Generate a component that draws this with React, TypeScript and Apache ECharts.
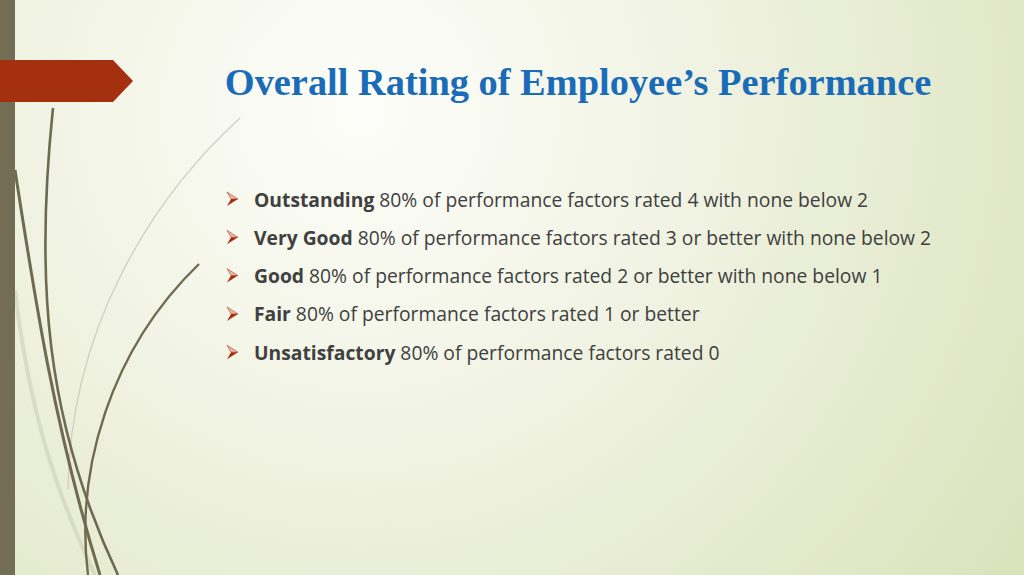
import { useEffect, useRef } from "react";
import * as echarts from "echarts";

const TITLE = "Overall Rating of Employee’s Performance";

const RATINGS = ["Outstanding", "Very Good", "Good", "Fair", "Unsatisfactory"];
const DESCRIPTIONS = [
  "80% of performance factors rated 4 with none below 2",
  "80% of performance factors rated 3 or better with none below 2",
  "80% of performance factors rated 2 or better with none below 1",
  "80% of performance factors rated 1 or better",
  "80% of performance factors rated 0",
];

// decorative grass curves: [x1, y1, cp1x, cp1y, cp2x, cp2y, x2, y2, width, color, opacity]
const CURVES: [number, number, number, number, number, number, number, number, number, string, number][] = [
  [15, 290, 30, 420, 60, 500, 95, 575, 4, "#c9cfb2", 0.55],
  [240, 118, 150, 200, 70, 330, 68, 490, 1.5, "#c8ccba", 0.8],
  [53, 108, 35, 280, 45, 420, 118, 575, 2.6, "#6f6a50", 1],
  [15, 170, 35, 300, 55, 430, 100, 575, 3, "#6f6a50", 1],
  [199, 264, 110, 350, 75, 470, 88, 575, 2.4, "#6f6a50", 1],
];

export default function App() {
  const ref = useRef<HTMLDivElement>(null);

  useEffect(() => {
    document.body.style.margin = "0";
    if (!ref.current) return;
    const chart = echarts.init(ref.current, null, { renderer: "svg" });

    const bullets: any[] = [];
    RATINGS.forEach((r, i) => {
      const y = 199 + i * 38.3;
      bullets.push({
        type: "polygon",
        shape: { points: [[227, y - 7], [238, y], [231, y]] },
        style: { fill: "#e9b8a8", stroke: "#b4472a", lineWidth: 0.6 },
      });
      bullets.push({
        type: "polygon",
        shape: { points: [[231, y], [238, y], [227, y + 7]] },
        style: { fill: "#a8300f" },
      });
      bullets.push({
        type: "text",
        x: 254,
        y,
        style: {
          text: `{b|${r}} ${DESCRIPTIONS[i]}`,
          fontFamily: "Open Sans",
          fontSize: 19.3,
          fill: "#404040",
          verticalAlign: "middle",
          rich: {
            b: { fontWeight: "bold", fontFamily: "Open Sans", fontSize: 19.3, fill: "#404040" },
          },
        },
      });
    });

    chart.setOption({
      animation: false,
      graphic: [
        {
          type: "rect",
          shape: { x: 0, y: 0, width: 1024, height: 575 },
          style: {
            fill: new echarts.graphic.RadialGradient(
              360,
              110,
              900,
              [
                { offset: 0, color: "#fdfdf9" },
                { offset: 0.35, color: "#f1f4e4" },
                { offset: 1, color: "#d6dfb4" },
              ],
              true
            ),
          },
        },
        ...CURVES.map((c) => ({
          type: "bezierCurve",
          shape: { x1: c[0], y1: c[1], cpx1: c[2], cpy1: c[3], cpx2: c[4], cpy2: c[5], x2: c[6], y2: c[7] },
          style: { stroke: c[9], lineWidth: c[8], opacity: c[10], fill: "none" },
        })),
        {
          type: "rect",
          shape: { x: 0, y: 0, width: 15, height: 575 },
          style: { fill: "#736d55" },
        },
        {
          type: "polygon",
          shape: { points: [[0, 60], [113, 60], [133, 81], [113, 102], [0, 102]] },
          style: { fill: "#a5300f" },
        },
        {
          type: "text",
          x: 578,
          y: 82,
          style: {
            text: TITLE,
            fontFamily: "Liberation Serif",
            fontWeight: "bold",
            fontSize: 38.4,
            fill: "#1a6cb8",
            align: "center",
            verticalAlign: "middle",
          },
        },
        ...bullets,
      ],
    });

    return () => chart.dispose();
  }, []);

  return <div ref={ref} style={{ width: 1024, height: 575 }} />;
}
